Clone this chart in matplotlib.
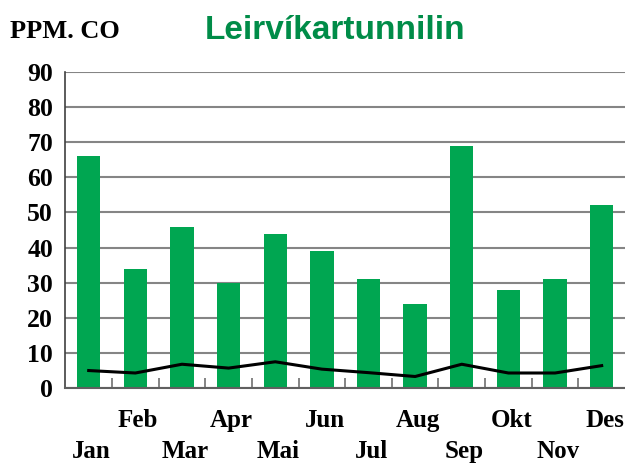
import numpy as np
import matplotlib.pyplot as plt

months = ["Jan", "Feb", "Mar", "Apr", "Mai", "Jun",
          "Jul", "Aug", "Sep", "Okt", "Nov", "Des"]
peak_ppm = [66, 34, 46, 30, 44, 39, 31, 24, 69, 28, 31, 52]
mean_ppm = [4.9, 4.2, 6.7, 5.6, 7.4, 5.3, 4.3, 3.2, 6.7, 4.2, 4.2, 6.3]
yticks = [0, 10, 20, 30, 40, 50, 60, 70, 80, 90]

serif = ["Liberation Serif", "DejaVu Serif"]

fig = plt.figure(figsize=(6.25, 4.65), dpi=100)
ax = fig.add_axes([0.1046, 0.1662, 0.8954, 0.6783])

x = np.arange(len(months))
ax.bar(x, peak_ppm, width=0.5, color="#00A651", zorder=2)
ax.plot(x, mean_ppm, color="black", lw=2.2, zorder=3)

ax.set_xlim(-0.5, len(months) - 0.5)
ax.set_ylim(0, 90)
ax.set_yticks(yticks)
ax.set_yticklabels([str(v) for v in yticks], fontfamily=serif,
                   fontweight="bold", fontsize=18.5)
ax.tick_params(axis="y", length=0, pad=9)

# month names alternate between two rows
labels = [m if i % 2 else "\n" + m for i, m in enumerate(months)]
ax.set_xticks(x + 0.06)
ax.set_xticklabels(labels, fontfamily=serif, fontweight="bold", fontsize=18,
                   linespacing=1.45)
ax.tick_params(axis="x", which="major", length=0, pad=15)
ax.set_xticks(np.arange(0.5, len(months) - 0.5), minor=True)
ax.tick_params(axis="x", which="minor", direction="in", length=7,
               width=1.2, color="#707070")

ax.yaxis.grid(True, color="#858585", lw=1.5, zorder=1)
ax.set_axisbelow(True)
for side in ["top", "right"]:
    ax.spines[side].set_visible(False)
ax.spines["left"].set_color("#404040")
ax.spines["bottom"].set_color("#606060")
ax.spines["left"].set_linewidth(1.2)
ax.spines["bottom"].set_linewidth(1.5)

fig.text(0.016, 0.933, "PPM. CO", fontfamily=serif, fontweight="bold",
         fontsize=19, va="center", ha="left")
fig.text(0.536, 0.935, "Leirvíkartunnilin",
         fontfamily=["Liberation Sans Narrow", "DejaVu Sans Condensed",
                     "Liberation Sans"],
         fontweight="bold", fontsize=24, color="#008C48",
         va="center", ha="center")

fig.savefig("out.png", dpi=100)
